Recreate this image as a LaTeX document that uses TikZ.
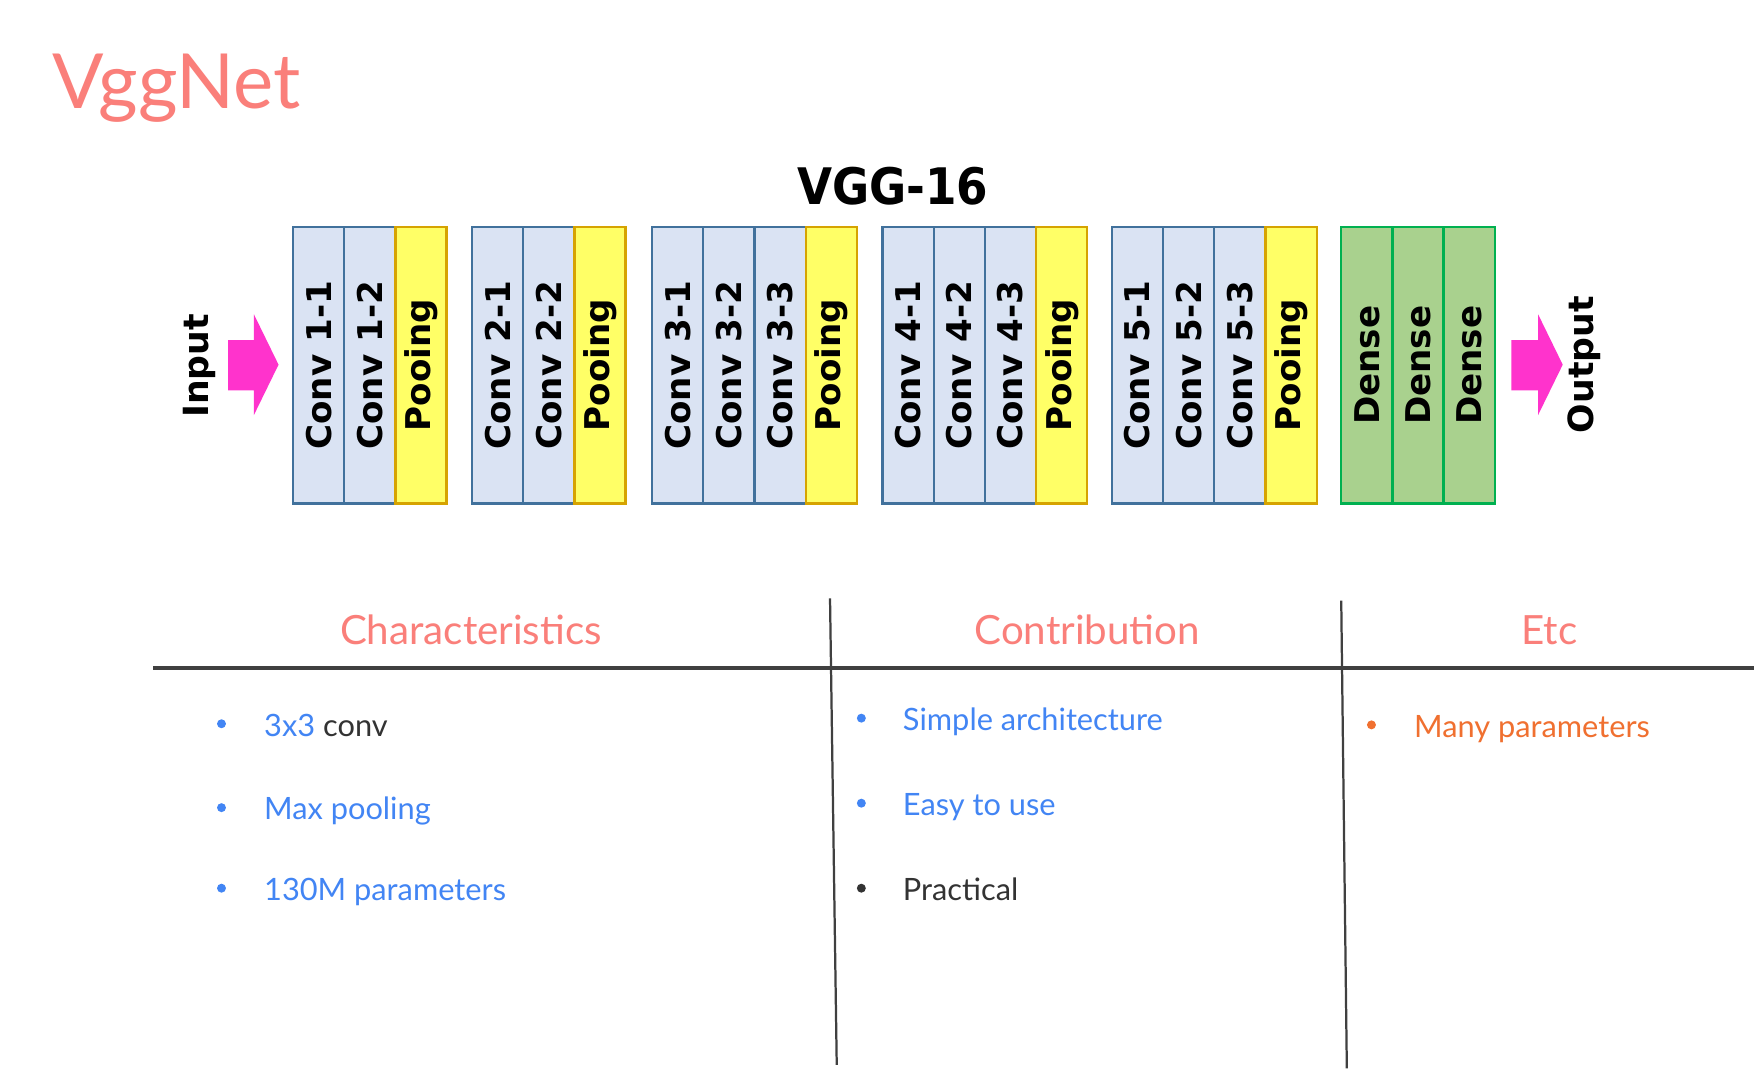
\documentclass[tikz,border=0pt]{standalone}
\usepackage{fontspec}
\setmainfont{Lato}
\newfontfamily\blockfont{DejaVu Sans}
\definecolor{convfill}{HTML}{DAE3F3}
\definecolor{convline}{HTML}{41719C}
\definecolor{poolfill}{HTML}{FFFF66}
\definecolor{poolline}{HTML}{D6A300}
\definecolor{densefill}{HTML}{A9D18E}
\definecolor{denseline}{HTML}{00B050}
\definecolor{arrowc}{HTML}{FF33CC}
\definecolor{salmon}{HTML}{FA7F7A}
\definecolor{bluet}{HTML}{4285F4}
\definecolor{darkt}{HTML}{333333}
\definecolor{oranget}{HTML}{F07030}
\definecolor{rulec}{HTML}{404040}
\tikzset{
  conv/.style={draw=convline, fill=convfill, line width=2pt, rotate=90,
    minimum width=247pt, minimum height=45.75pt, inner sep=0pt,
    font=\blockfont\bfseries\fontsize{30.5}{30.5}\selectfont},
  pool/.style={conv, draw=poolline, fill=poolfill},
  dense/.style={conv, draw=denseline, fill=densefill},
  iolabel/.style={rotate=90, inner sep=0pt, font=\blockfont\bfseries\fontsize{31}{31}\selectfont},
  head/.style={text=salmon, inner sep=0pt, anchor=base, font=\fontsize{36}{36}\selectfont},
  item/.style={inner sep=0pt, anchor=base west, font=\fontsize{27.5}{27.5}\selectfont},
  dot/.style={circle, inner sep=0pt, minimum size=8pt},
  rulethick/.style={draw=rulec, line width=3pt},
  rulethin/.style={draw=rulec, line width=2pt},
}
\begin{document}
\begin{tikzpicture}[x=1pt,y=-1pt]
\useasboundingbox[fill=white] (0,0) rectangle (1568,955);
% title
\node[inner sep=0pt, anchor=base west, text=salmon, font=\fontsize{68}{68}\selectfont] (title) at (47,97) {VggNet};
\node[inner sep=0pt, anchor=base, font=\blockfont\bfseries\fontsize{45}{45}\selectfont] (vgg) at (798,183) {\scalebox{0.9}[1]{VGG-16}};
% blocks
\foreach \s/\b/\n in {262/1/2, 422/2/2, 583/3/3, 789/4/3, 994/5/3} {
  \foreach \i in {1,...,\n} {
    \node[conv] (c\b\i) at ({\s+(\i-0.5)*45.75}, 326.5) {Conv \b-\i};
  }
  \node[pool] (p\b) at ({\s+(\n+0.5)*45.75}, 326.5) {Pooing};
}
\foreach \i in {1,2,3} {
  \node[dense] (d\i) at ({1199+(\i-0.5)*45.75}, 326.5) {Dense};
}
% input / output
\node[iolabel] (input) at (178,327) {Input};
\node[iolabel] (output) at (1416,326) {Output};
\fill[arrowc] (204,304) -- (227,304) -- (227,281) -- (249,326) -- (227,371) -- (227,349) -- (204,349) -- cycle;
\fill[arrowc] (1351,304) -- (1375,304) -- (1375,281) -- (1397,326) -- (1375,371) -- (1375,349) -- (1351,349) -- cycle;
% table rules
\coordinate (hl) at (137,597);
\coordinate (hr) at (1568,597);
\coordinate (v1t) at (742,535);
\coordinate (v1b) at (748,952);
\coordinate (v2t) at (1199,537);
\coordinate (v2b) at (1204,955);
\draw[rulethick] (hl) -- (hr);
\draw[rulethin] (v1t) -- (v1b);
\draw[rulethin] (v2t) -- (v2b);
% headers
\node[head] (h1) at (421,576) {Characteristics};
\node[head] (h2) at (972,576) {Contribution};
\node[head] (h3) at (1385,576) {Etc};
% column 1
\node[dot, fill=bluet] (b11) at (198,647) {};
\node[item] (t11) at (236,658) {\textcolor{bluet}{3x3} \textcolor{darkt}{conv}};
\node[dot, fill=bluet] (b12) at (198,722) {};
\node[item, text=bluet] (t12) at (236,733) {Max pooling};
\node[dot, fill=bluet] (b13) at (198,794) {};
\node[item, text=bluet] (t13) at (236,805) {130M parameters};
% column 2
\node[dot, fill=bluet] (b21) at (770,642) {};
\node[item, text=bluet] (t21) at (807,653) {Simple architecture};
\node[dot, fill=bluet] (b22) at (770,718) {};
\node[item, text=bluet] (t22) at (807,729) {Easy to use};
\node[dot, fill=darkt] (b23) at (770,794) {};
\node[item, text=darkt] (t23) at (807,805) {Practical};
% column 3
\node[dot, fill=oranget] (b31) at (1226,648) {};
\node[item, text=oranget] (t31) at (1264,659) {Many parameters};
\end{tikzpicture}
\end{document}
